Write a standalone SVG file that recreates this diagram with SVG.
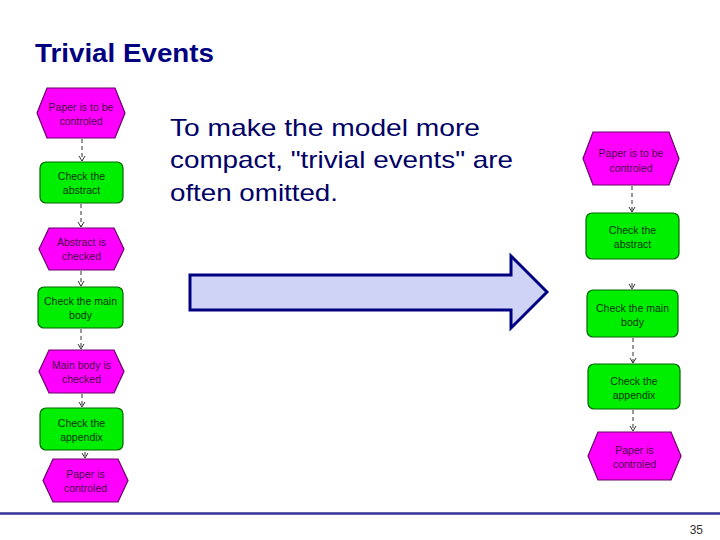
<svg xmlns="http://www.w3.org/2000/svg" width="720" height="540" viewBox="0 0 720 540">
<style>
.ev{fill:#ff00ff;stroke:#660066;stroke-width:1.2}
.fn{fill:#00ee00;stroke:#006600;stroke-width:1.2}
.evt{font-family:"Liberation Sans",Arial,sans-serif;font-size:10.5px;fill:#4a004a;text-anchor:middle}
.fnt{font-family:"Liberation Sans",Arial,sans-serif;font-size:10.5px;fill:#003300;text-anchor:middle}
.con{stroke:#333333;stroke-width:1;stroke-dasharray:4,3;fill:none}
.para{font-family:"Liberation Sans",Arial,sans-serif;font-size:24px;fill:#000066}
</style>
<defs>
<marker id="v" viewBox="-7 -5 9 10" refX="0" refY="0" markerWidth="9" markerHeight="10" markerUnits="userSpaceOnUse" orient="auto" overflow="visible">
<path d="M-5,-3 L0,0 L-5,3" fill="none" stroke="#333333" stroke-width="1"/>
</marker>
</defs>
<rect width="720" height="540" fill="#ffffff"/>
<text x="35" y="62" font-family="'Liberation Sans',Arial,sans-serif" font-size="26" font-weight="bold" fill="#000080" textLength="179" lengthAdjust="spacingAndGlyphs">Trivial Events</text>
<g id="description">
<text class="para" x="170" y="136" textLength="310" lengthAdjust="spacingAndGlyphs">To make the model more</text>
<text class="para" x="170" y="168" textLength="343" lengthAdjust="spacingAndGlyphs">compact, "trivial events" are</text>
<text class="para" x="170" y="201" textLength="168" lengthAdjust="spacingAndGlyphs">often omitted.</text>
</g>
<g id="big-arrow">
<path d="M190,275 L511,275 L511,256 L547,292 L511,328 L511,310 L190,310 Z" fill="#cfd3f5" stroke="#000080" stroke-width="3" stroke-linejoin="miter"/>
</g>
<g id="connectors">
<line class="con" x1="82" y1="139" x2="82" y2="161" marker-end="url(#v)"/>
<line class="con" x1="81" y1="204" x2="81" y2="227" marker-end="url(#v)"/>
<line class="con" x1="81" y1="271" x2="81" y2="286" marker-end="url(#v)"/>
<line class="con" x1="81" y1="329" x2="81" y2="349" marker-end="url(#v)"/>
<line class="con" x1="82" y1="394" x2="82" y2="407" marker-end="url(#v)"/>
<line class="con" x1="85" y1="452" x2="85" y2="458" marker-end="url(#v)"/>
<line class="con" x1="632" y1="186" x2="632" y2="212" marker-end="url(#v)"/>
<line class="con" x1="632" y1="283" x2="632" y2="289" marker-end="url(#v)"/>
<line class="con" x1="633" y1="338" x2="633" y2="363" marker-end="url(#v)"/>
<line class="con" x1="633" y1="410" x2="633" y2="431" marker-end="url(#v)"/>
</g>
<g id="L1"><polygon class="ev" points="47,88 115,88 125,113 115,138 47,138 37,113"/><text class="evt" x="81" y="111">Paper is to be</text><text class="evt" x="81" y="125">controled</text></g>
<g id="L2"><rect class="fn" x="40" y="162" width="83" height="41" rx="6"/><text class="fnt" x="81.5" y="180">Check the</text><text class="fnt" x="81.5" y="194">abstract</text></g>
<g id="L3"><polygon class="ev" points="49,228 114,228 124,249 114,270 49,270 39,249"/><text class="evt" x="81.5" y="246">Abstract is</text><text class="evt" x="81.5" y="260">checked</text></g>
<g id="L4"><rect class="fn" x="38" y="287" width="85" height="41" rx="6"/><text class="fnt" x="80.5" y="305">Check the main</text><text class="fnt" x="80.5" y="319">body</text></g>
<g id="L5"><polygon class="ev" points="49,350 114,350 124,371.5 114,393 49,393 39,371.5"/><text class="evt" x="81.5" y="369">Main body is</text><text class="evt" x="81.5" y="383">checked</text></g>
<g id="L6"><rect class="fn" x="40" y="408" width="83" height="42" rx="6"/><text class="fnt" x="81.5" y="427">Check the</text><text class="fnt" x="81.5" y="441">appendix</text></g>
<g id="L7"><polygon class="ev" points="53,459 118,459 128,480.5 118,502 53,502 43,480.5"/><text class="evt" x="85.5" y="478">Paper is</text><text class="evt" x="85.5" y="492">controled</text></g>
<g id="R1"><polygon class="ev" points="593,132 669,132 679,158.5 669,185 593,185 583,158.5"/><text class="evt" x="631" y="157">Paper is to be</text><text class="evt" x="631" y="172">controled</text></g>
<g id="R2"><rect class="fn" x="586" y="213" width="93" height="46" rx="6"/><text class="fnt" x="632.5" y="234">Check the</text><text class="fnt" x="632.5" y="248">abstract</text></g>
<g id="R3"><rect class="fn" x="587" y="290" width="91" height="47" rx="6"/><text class="fnt" x="632.5" y="312">Check the main</text><text class="fnt" x="632.5" y="326">body</text></g>
<g id="R4"><rect class="fn" x="588" y="364" width="92" height="45" rx="6"/><text class="fnt" x="634" y="385">Check the</text><text class="fnt" x="634" y="399">appendix</text></g>
<g id="R5"><polygon class="ev" points="598,432 671,432 681,456 671,480 598,480 588,456"/><text class="evt" x="634.5" y="454">Paper is</text><text class="evt" x="634.5" y="468">controled</text></g>
<line x1="0" y1="513.5" x2="720" y2="513.5" stroke="#333399" stroke-width="2.5"/>
<text x="703" y="534" font-family="'Liberation Sans',Arial,sans-serif" font-size="12" fill="#333333" text-anchor="end">35</text>
</svg>
